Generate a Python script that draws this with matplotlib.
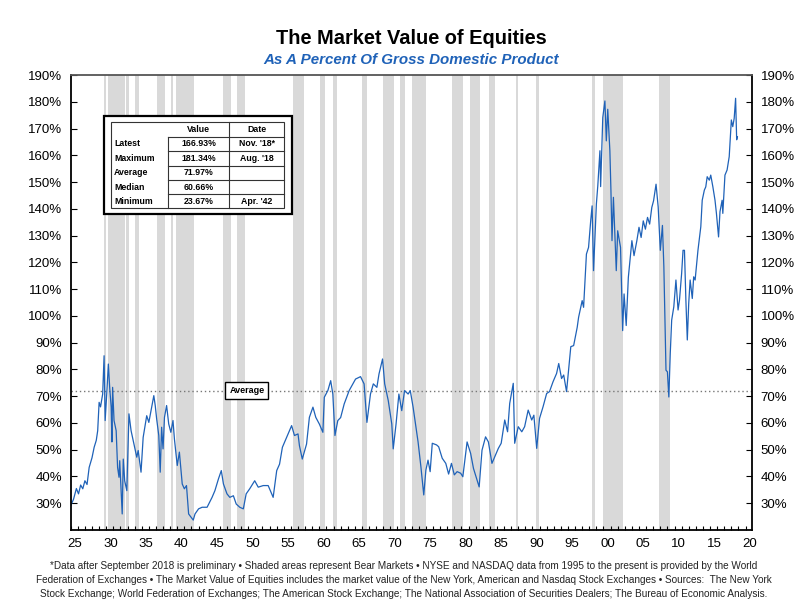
import matplotlib.pyplot as plt
from matplotlib.patches import Rectangle
from matplotlib.lines import Line2D

# market value of equities as % of GDP
years = [1925.0, 1925.4, 1925.8, 1926.1, 1926.4, 1926.7, 1927.0, 1927.3, 1927.6, 1928.0,
         1928.3, 1928.6, 1928.8, 1929.0, 1929.2, 1929.5, 1929.7, 1929.85, 1930.1, 1930.3,
         1930.5, 1930.7, 1930.8, 1930.9, 1931.1, 1931.4, 1931.6, 1931.8, 1931.9, 1932.1,
         1932.25, 1932.4, 1932.6, 1932.9, 1933.2, 1933.5, 1933.8, 1934.3, 1934.5, 1934.9,
         1935.2, 1935.7, 1936.0, 1936.4, 1936.7, 1936.9, 1937.1, 1937.4, 1937.6, 1937.8,
         1938.0, 1938.2, 1938.5, 1938.8, 1939.1, 1939.4, 1939.6, 1940.0, 1940.3, 1940.7,
         1941.0, 1941.3, 1941.6, 1942.25, 1942.5, 1943.0, 1943.5, 1944.2, 1944.9, 1945.3,
         1945.8, 1946.2, 1946.5, 1947.0, 1947.4, 1947.9, 1948.3, 1948.8, 1949.3, 1949.7,
         1950.2, 1950.9, 1951.4, 1952.1, 1952.8, 1953.5, 1954.0, 1954.4, 1954.8, 1955.4,
         1955.8, 1956.1, 1956.5, 1957.0, 1957.2, 1957.6, 1958.2, 1958.6, 1959.1, 1959.5,
         1960.0, 1960.5, 1960.7, 1961.2, 1961.6, 1961.9, 1962.2, 1962.6, 1963.0, 1963.5,
         1964.2, 1965.1, 1965.8, 1966.3, 1966.7, 1967.2, 1967.6, 1968.1, 1968.4, 1968.9,
         1969.2, 1969.7, 1970.2, 1970.4, 1970.8, 1971.2, 1971.6, 1972.0, 1972.5, 1972.8,
         1973.2, 1973.5, 1973.9, 1974.3, 1974.7, 1975.0, 1975.3, 1975.6, 1975.9, 1976.5,
         1976.8, 1977.3, 1977.8, 1978.2, 1978.6, 1979.0, 1979.4, 1979.9, 1980.2, 1980.6,
         1980.8, 1981.3, 1981.7, 1982.2, 1982.5, 1982.9, 1983.4, 1983.8, 1984.3, 1984.7,
         1985.2, 1985.6, 1986.1, 1986.5, 1986.8, 1987.3, 1987.5, 1988.0, 1988.5, 1988.9,
         1989.4, 1989.9, 1990.2, 1990.6, 1991.0, 1991.5, 1992.0, 1992.4, 1992.9, 1993.4,
         1993.7, 1994.1, 1994.4, 1994.8, 1995.0, 1995.4, 1995.8, 1996.3, 1996.5, 1997.0,
         1997.2, 1997.6, 1997.9, 1998.2, 1998.4, 1998.6, 1999.0, 1999.2, 1999.5, 1999.6,
         1999.9, 2000.2, 2000.4, 2000.6, 2000.9, 2001.05, 2001.2, 2001.4, 2001.8, 2002.0,
         2002.4, 2002.7, 2002.9, 2003.2, 2003.5, 2004.0, 2004.3, 2004.7, 2005.0, 2005.3,
         2005.6, 2005.9, 2006.2, 2006.5, 2006.8, 2007.05, 2007.4, 2007.7, 2008.0, 2008.3,
         2008.5, 2008.8, 2009.0, 2009.2, 2009.4, 2009.6, 2009.9, 2010.2, 2010.5, 2010.7,
         2011.0, 2011.2, 2011.4, 2011.6, 2011.8, 2012.0, 2012.2, 2012.5, 2012.7, 2012.9,
         2013.3, 2013.7, 2013.9, 2014.2, 2014.4, 2014.6, 2014.9, 2015.1, 2015.4, 2015.7,
         2015.9, 2016.2, 2016.4, 2016.7, 2016.8, 2017.1, 2017.4, 2017.7, 2018.0, 2018.2,
         2018.4, 2018.6, 2018.75, 2018.85]
values = [29.1, 31.5, 35.5, 33.5, 36.8, 35.4, 38.4, 37.0, 43.4, 47.0,
          50.9, 53.5, 57.1, 67.7, 66.0, 70.8, 85.1, 60.9, 72.1, 82.0,
          72.7, 65.9, 52.9, 73.3, 60.9, 57.1, 43.4, 39.7, 45.9, 34.7,
          26.0, 46.5, 38.4, 34.7, 63.4, 57.1, 53.4, 47.2, 49.7, 41.6,
          54.6, 62.7, 60.2, 65.9, 70.2, 66.5, 61.5, 55.3, 41.6, 58.4,
          50.3, 62.1, 66.5, 59.6, 56.5, 60.9, 54.0, 44.1, 49.1, 37.2,
          35.4, 36.6, 26.0, 23.7, 26.0, 27.9, 28.5, 28.5, 32.2, 34.7,
          39.1, 42.2, 37.2, 33.5, 32.2, 32.8, 29.7, 28.5, 27.9, 33.5,
          35.4, 38.4, 36.0, 36.6, 36.6, 32.2, 42.2, 44.6, 50.9, 54.6,
          57.1, 59.0, 55.3, 55.9, 51.5, 46.5, 52.1, 62.1, 65.9, 62.1,
          59.6, 56.5, 69.6, 72.1, 75.8, 70.8, 55.3, 60.9, 62.0, 67.1,
          72.1, 76.4, 77.3, 74.6, 60.2, 70.8, 74.6, 73.3, 78.3, 83.9,
          74.6, 68.4, 59.6, 50.3, 59.6, 70.8, 64.6, 72.1, 70.8, 72.1,
          65.9, 60.2, 52.9, 43.6, 33.1, 42.4, 46.1, 41.8, 52.4, 51.8,
          51.1, 46.8, 44.9, 40.9, 44.9, 40.6, 41.8, 41.2, 39.9, 48.6,
          52.9, 48.6, 43.0, 38.6, 36.1, 49.8, 54.8, 52.9, 44.9, 47.4,
          50.5, 52.4, 61.1, 56.7, 67.3, 74.8, 52.4, 58.6, 56.7, 58.6,
          64.8, 61.1, 62.9, 50.5, 61.7, 66.1, 71.0, 71.7, 75.4, 78.5,
          82.2, 76.6, 77.9, 71.7, 77.3, 88.5, 88.9, 95.7, 99.5, 105.7,
          103.2, 123.1, 125.6, 135.5, 141.1, 116.9, 141.8, 148.6, 161.7, 148.3,
          174.1, 180.3, 165.4, 177.2, 161.7, 146.8, 128.1, 144.3, 116.9, 131.8,
          125.6, 94.5, 108.2, 96.4, 114.4, 128.1, 122.5, 128.1, 133.1, 129.3,
          135.5, 132.4, 136.8, 134.3, 140.5, 143.0, 149.2, 140.7, 124.5, 133.8,
          118.3, 79.7, 79.1, 69.7, 85.9, 98.4, 103.4, 113.4, 102.2, 105.9,
          115.8, 124.5, 124.5, 105.9, 91.0, 104.7, 113.4, 106.5, 114.6, 113.4,
          124.5, 133.3, 143.2, 147.0, 148.2, 152.0, 150.7, 152.6, 148.2, 143.2,
          138.3, 129.5, 138.9, 143.2, 138.3, 152.6, 154.5, 159.5, 173.2, 170.7,
          173.8, 181.3, 165.8, 166.9]

# shaded bear markets (start, end)
bear_start = [1929.67, 1930.3, 1932.75, 1934.0, 1937.2, 1939.05, 1939.8, 1946.45, 1948.45,
              1956.35, 1960.05, 1961.95, 1966.05, 1968.95, 1971.3, 1973.0, 1978.7, 1981.25,
              1983.9, 1987.65, 1990.45, 1998.45, 1999.95, 2007.75]
bear_end = [1929.9, 1932.6, 1933.2, 1934.6, 1938.25, 1939.45, 1942.35, 1947.5, 1949.5,
            1957.9, 1960.85, 1962.55, 1966.75, 1970.55, 1972.05, 1975.0, 1980.25, 1982.6,
            1984.7, 1987.95, 1990.9, 1998.75, 2002.75, 2009.3]

average = 71.97
tbl_rows = ["Latest", "Maximum", "Average", "Median", "Minimum"]
tbl_values = ["166.93%", "181.34%", "71.97%", "60.66%", "23.67%"]
tbl_dates = ["Nov. '18*", "Aug. '18", "", "", "Apr. '42"]

x_labels = ["25", "30", "35", "40", "45", "50", "55", "60", "65", "70", "75", "80",
            "85", "90", "95", "00", "05", "10", "15", "20"]
y_ticks = list(range(30, 200, 10))

footnote = [
    "*Data after September 2018 is preliminary \u2022 Shaded areas represent Bear Markets \u2022 "
    "NYSE and NASDAQ data from 1995 to the present is provided by the World",
    "Federation of Exchanges \u2022 The Market Value of Equities includes the market value of the "
    "New York, American and Nasdaq Stock Exchanges \u2022 Sources:  The New York",
    "Stock Exchange; World Federation of Exchanges; The American Stock Exchange; The National "
    "Association of Securities Dealers; The Bureau of Economic Analysis.",
]

plt.rcParams['font.family'] = ['Liberation Sans', 'DejaVu Sans']
BLUE = "#1f62b8"
W, H = 807, 616


def fx(px):
    return px / W


def fy(py):
    return 1 - py / H


fig = plt.figure(figsize=(W / 100, H / 100), dpi=100)
ax = fig.add_axes([fx(70.7), fy(530), fx(752.3) - fx(70.7), fy(75) - fy(530)])

for s, e in zip(bear_start, bear_end):
    ax.axvspan(s, e, color="#d9d9d9", lw=0, zorder=0)

ax.axhline(average, color="#777777", lw=1, ls=(0, (1, 2)), zorder=1)
ax.plot(years, values, color=BLUE, lw=0.9, zorder=2)

ax.text(1949.8, average, "Average", ha="center", va="center", fontsize=6.5, fontweight="bold",
        zorder=3, bbox=dict(boxstyle="square,pad=0.45", fc="white", ec="black", lw=1))

ax.set_xlim(1925.0, 2020.95)
ax.set_ylim(20, 190)

ax.set_xticks([1925.6 + 5 * i for i in range(len(x_labels))])
ax.set_xticklabels(x_labels)
ax.set_xticks(range(1925, 2021), minor=True)
ax.tick_params(axis="x", which="major", length=0, pad=6, labelsize=9.5)
ax.tick_params(axis="x", which="minor", direction="in", length=3, width=0.8)

ax.set_yticks(y_ticks)
ax.set_yticklabels([f"{v}%" for v in y_ticks])
ax.tick_params(axis="y", direction="in", length=4, width=0.8, labelsize=9.5, pad=6,
               left=True, right=True, labelleft=True, labelright=True)

for sp in ax.spines.values():
    sp.set_linewidth(1.3)
    sp.set_color("black")
ax.spines["top"].set_color("#555555")

# summary table
fig.add_artist(Rectangle((fx(104.3), fy(214.3)), fx(292.3) - fx(104.3), fy(116) - fy(214.3),
                         transform=fig.transFigure, fc="white", ec="black", lw=1.6, zorder=5))
cx = [110.7, 168.3, 229.3, 284.3]
ry = [122, 136.7, 151.3, 165.7, 180, 194.3, 208.3]
fig.add_artist(Rectangle((fx(cx[0]), fy(ry[-1])), fx(cx[3]) - fx(cx[0]), fy(ry[0]) - fy(ry[-1]),
                         transform=fig.transFigure, fc="white", ec="#333333", lw=0.8, zorder=6))
fig.add_artist(Line2D([fx(cx[1])] * 2, [fy(ry[1]), fy(ry[-1])], transform=fig.transFigure,
                      color="#333333", lw=0.8, zorder=7))
fig.add_artist(Line2D([fx(cx[2])] * 2, [fy(ry[0]), fy(ry[-1])], transform=fig.transFigure,
                      color="#333333", lw=0.8, zorder=7))
for r in ry[1:-1]:
    fig.add_artist(Line2D([fx(cx[1]), fx(cx[3])], [fy(r)] * 2, transform=fig.transFigure,
                          color="#333333", lw=0.8, zorder=7))

tkw = dict(fontsize=6.3, fontweight="bold", va="center", zorder=8)
fig.text(fx((cx[1] + cx[2]) / 2), fy((ry[0] + ry[1]) / 2), "Value", ha="center", **tkw)
fig.text(fx((cx[2] + cx[3]) / 2), fy((ry[0] + ry[1]) / 2), "Date", ha="center", **tkw)
for i, (lab, val, dt) in enumerate(zip(tbl_rows, tbl_values, tbl_dates)):
    ymid = fy((ry[i + 1] + ry[i + 2]) / 2)
    fig.text(fx(cx[0] + 3.5), ymid, lab, ha="left", **tkw)
    fig.text(fx((cx[1] + cx[2]) / 2), ymid, val, ha="center", **tkw)
    fig.text(fx((cx[2] + cx[3]) / 2), ymid, dt, ha="center", **tkw)

fig.text(fx(411.5), fy(38), "The Market Value of Equities", ha="center", va="center",
         fontsize=14.4, fontweight="bold")
fig.text(fx(411.5), fy(60.5), "As A Percent Of Gross Domestic Product", ha="center",
         va="center", fontsize=10.9, fontweight="bold", style="italic", color=BLUE)

for i, line in enumerate(footnote):
    fig.text(fx(403.5), fy(566 + 14 * i), line, ha="center", va="center", fontsize=7.2,
             color="#222222")

fig.savefig("out.png", dpi=100)
